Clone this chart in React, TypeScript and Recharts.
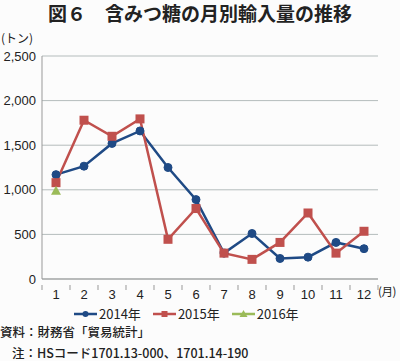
import React from 'react';
import { LineChart, Line, XAxis, YAxis, CartesianGrid } from 'recharts';

const months = ['1', '2', '3', '4', '5', '6', '7', '8', '9', '10', '11', '12'];
const y2014 = [1170, 1265, 1520, 1660, 1250, 890, 290, 510, 230, 245, 410, 340];
const y2015 = [1080, 1780, 1600, 1795, 445, 790, 290, 220, 410, 740, 290, 535];
const y2016: (number | null)[] = [990, null, null, null, null, null, null, null, null, null, null, null];
const yTicks = [0, 500, 1000, 1500, 2000, 2500];

const seriesInfo = [
  { key: 'y2014', name: '2014年', color: '#1f4a85' },
  { key: 'y2015', name: '2015年', color: '#c0504d' },
  { key: 'y2016', name: '2016年', color: '#9bbb59' },
];

const data = months.map((m, i) => ({
  month: m,
  y2014: y2014[i],
  y2015: y2015[i],
  y2016: y2016[i],
}));

const FONT = '"Liberation Sans", "Noto Sans CJK JP", sans-serif';
const JP = '"Noto Sans CJK JP", sans-serif';

const SquareDot = (props: any) => {
  const { cx, cy } = props;
  if (cx == null || cy == null) return null;
  return <rect x={cx - 4.5} y={cy - 4.5} width={9} height={9} fill="#c0504d" />;
};

const TriangleDot = (props: any) => {
  const { cx, cy } = props;
  if (cx == null || cy == null) return null;
  return <polygon points={`${cx},${cy - 5} ${cx + 5},${cy + 4} ${cx - 5},${cy + 4}`} fill="#9bbb59" />;
};

// month tick with the small tick marks on the category boundaries
const MonthTick = (props: any) => {
  const { x, y, payload, index } = props;
  const half = 14;
  return (
    <g>
      <line x1={x - half} y1={y - 2} x2={x - half} y2={y + 3} stroke="#999" />
      {index === months.length - 1 && (
        <line x1={x + half} y1={y - 2} x2={x + half} y2={y + 3} stroke="#999" />
      )}
      <text x={x} y={y + 12} textAnchor="middle" fontSize={13} fill="#222" fontFamily={FONT}>
        {payload.value}
      </text>
    </g>
  );
};

const LegendBox = () => (
  <div style={{ position: 'absolute', left: 74, top: 306, display: 'flex', gap: 12, fontFamily: JP, fontSize: 13, color: '#222', lineHeight: '16px' }}>
    {seriesInfo.map((s) => (
      <span key={s.key} style={{ display: 'flex', alignItems: 'center' }}>
        <svg width={23} height={10} style={{ marginRight: 2 }}>
          <line x1={0} y1={5} x2={23} y2={5} stroke={s.color} strokeWidth={2.5} />
          {s.key === 'y2014' && <circle cx={11.5} cy={5} r={3} fill={s.color} />}
          {s.key === 'y2015' && <rect x={8.5} y={2} width={6} height={6} fill={s.color} />}
          {s.key === 'y2016' && <polygon points="11.5,1 15.5,8 7.5,8" fill={s.color} />}
        </svg>
        <span>{s.name}</span>
      </span>
    ))}
  </div>
);

export default function App() {
  return (
    <div style={{ position: 'absolute', left: 0, top: 0, width: 400, height: 361, background: '#fcfcfc', overflow: 'hidden' }}>
      <div style={{ position: 'absolute', left: 0, top: 2, width: 400, textAlign: 'center', fontFamily: JP, fontWeight: 'bold', fontSize: 19, color: '#222', lineHeight: '22px' }}>
        図６　含みつ糖の月別輸入量の推移
      </div>
      <div style={{ position: 'absolute', left: 1, top: 30, fontFamily: JP, fontSize: 12, color: '#222', lineHeight: '16px' }}>
        (トン)
      </div>
      <LineChart width={400} height={361} data={data} margin={{ top: 56, right: 22, left: 2, bottom: 52 }}>
        <CartesianGrid vertical={false} stroke="#b4bcbc" strokeWidth={1} />
        <XAxis
          dataKey="month"
          scale="band"
          height={30}
          tickLine={false}
          axisLine={{ stroke: '#999' }}
          tick={<MonthTick />}
          interval={0}
        />
        <YAxis
          width={40}
          domain={[0, 2500]}
          ticks={yTicks}
          tickFormatter={(v: number) => v.toLocaleString('en-US')}
          tick={{ fontSize: 13, fill: '#222', fontFamily: FONT }}
          tickLine={false}
          tickSize={4}
          tickMargin={2}
          axisLine={{ stroke: '#999' }}
        />
        <Line
          dataKey="y2014"
          name="2014年"
          stroke="#1f4a85"
          strokeWidth={2.5}
          dot={{ r: 4, fill: '#1f4a85', stroke: '#1f4a85', strokeWidth: 1 }}
          isAnimationActive={false}
        />
        <Line
          dataKey="y2015"
          name="2015年"
          stroke="#c0504d"
          strokeWidth={2.5}
          dot={<SquareDot />}
          isAnimationActive={false}
        />
        <Line
          dataKey="y2016"
          name="2016年"
          stroke="#9bbb59"
          strokeWidth={2.5}
          dot={<TriangleDot />}
          isAnimationActive={false}
        />
      </LineChart>
      <div style={{ position: 'absolute', left: 378, top: 283, fontFamily: JP, fontSize: 11.5, color: '#222', lineHeight: '16px', letterSpacing: -0.5 }}>
        (月)
      </div>
      <LegendBox />
      <div style={{ position: 'absolute', left: 0, top: 324, fontFamily: JP, fontSize: 12.5, fontWeight: 500, color: '#222', lineHeight: '16px' }}>
        資料：財務省「貿易統計」
      </div>
      <div style={{ position: 'absolute', left: 12, top: 345, fontFamily: JP, fontSize: 12.5, fontWeight: 500, color: '#222', lineHeight: '16px' }}>
        注：HSコード1701.13-000、1701.14-190
      </div>
    </div>
  );
}
